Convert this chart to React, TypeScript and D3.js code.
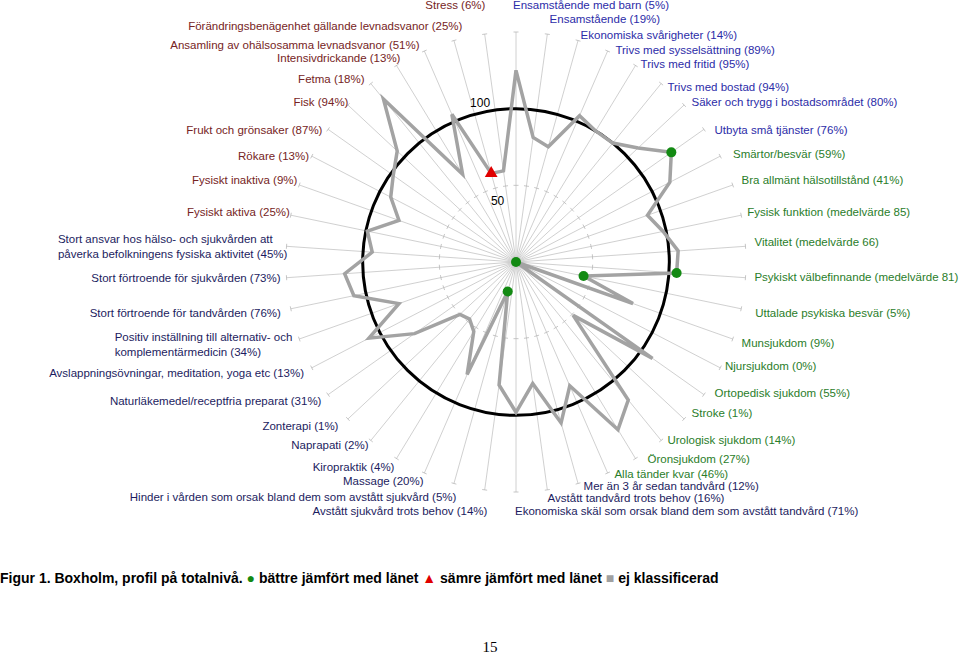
import React, { useRef, useEffect } from "react";
import * as d3 from "d3";

// categories clockwise from the top spoke
const categories = [
  "Ensamstående med barn (5%)",
  "Ensamstående (19%)",
  "Ekonomiska svårigheter (14%)",
  "Trivs med sysselsättning (89%)",
  "Trivs med fritid (95%)",
  "Trivs med bostad (94%)",
  "Säker och trygg i bostadsområdet (80%)",
  "Utbyta små tjänster (76%)",
  "Smärtor/besvär (59%)",
  "Bra allmänt hälsotillstånd (41%)",
  "Fysisk funktion (medelvärde 85)",
  "Vitalitet (medelvärde 66)",
  "Psykiskt välbefinnande (medelvärde 81)",
  "Uttalade psykiska besvär (5%)",
  "Munsjukdom (9%)",
  "Njursjukdom (0%)",
  "Ortopedisk sjukdom (55%)",
  "Stroke (1%)",
  "Urologisk sjukdom (14%)",
  "Öronsjukdom (27%)",
  "Alla tänder kvar (46%)",
  "Mer än 3 år sedan tandvård (12%)",
  "Avstått tandvård trots behov (16%)",
  "Ekonomiska skäl som orsak bland dem som avstått tandvård (71%)",
  "Avstått sjukvård trots behov (14%)",
  "Hinder i vården som orsak bland dem som avstått sjukvård (5%)",
  "Massage (20%)",
  "Kiropraktik (4%)",
  "Naprapati (2%)",
  "Zonterapi (1%)",
  "Naturläkemedel/receptfria preparat (31%)",
  "Avslappningsövningar, meditation, yoga etc (13%)",
  "Positiv inställning till alternativ- och\nkomplementärmedicin (34%)",
  "Stort förtroende för tandvården (76%)",
  "Stort förtroende för sjukvården (73%)",
  "Stort ansvar hos hälso- och sjukvården att\npåverka befolkningens fysiska aktivitet (45%)",
  "Fysiskt aktiva (25%)",
  "Fysiskt inaktiva (9%)",
  "Rökare (13%)",
  "Frukt och grönsaker (87%)",
  "Fisk (94%)",
  "Fetma (18%)",
  "Intensivdrickande  (13%)",
  "Ansamling av ohälsosamma levnadsvanor (51%)",
  "Förändringsbenägenhet gällande levnadsvanor (25%)",
  "Stress (6%)",
];

// index values (100 = county level)
const values = [
  125, 82, 78, 104, 100, 100, 109, 124, 113, 91,
  98, 106, 105, 45, 81, 0, 109, 51, 116, 128,
  88, 109, 80, 98, 81, 20, 80, 53, 48, 50,
  81, 108, 81, 108, 112, 94, 99, 81, 92, 98,
  106, 137, 67, 105, 60, 60,
];

// b = better than county, w = worse, "" = not classified
const status = [
  "", "", "", "", "", "", "", "b", "", "",
  "", "", "b", "b", "", "b", "", "", "", "",
  "", "", "", "", "", "b", "", "", "", "",
  "", "", "", "", "", "", "", "", "", "",
  "", "", "", "", "w", "",
];

// label colour group per category
const groups = [
  0, 0, 0, 0, 0, 0, 0, 0,
  1, 1, 1, 1, 1, 1, 1, 1, 1, 1, 1, 1, 1,
  2, 2, 2, 2, 2, 2, 2, 2, 2, 2, 2, 2, 2, 2, 2,
  3, 3, 3, 3, 3, 3, 3, 3, 3, 3,
];
const groupColors = ["#2c2ca8", "#2a7d2a", "#1c1c60", "#762424"];

// small label nudges from the spoke end
const labelNudge = [
  [-3, -25], [2, -13], [2, -4], [7, 1], [4, 0], [5, 5], [6, -2], [9, 2],
  [11, -1], [7, -4], [4, -3], [7, -4], [7, -1], [12, 4], [7, 3], [3, -3],
  [9, -3], [6, -7], [5, -2], [11, -1], [6, -1], [5, 1], [0, 6], [-1, 17],
  [3, 19], [3, 12], [0, 6], [-1, 7], [-1, 3], [-8, 6], [-5, 5], [-6, 4],
  [-5, 5], [-8, 4], [-4, 0], [3, 0], [1, -3], [0, -4], [-1, 1], [-4, 2],
  [2, -2], [-5, -3], [5, -6], [-4, -4], [9, -13], [1, -27],
];

const ringTicks = [50, 100, 150];
const ringLabels = [
  { v: 50, dx: -8, dy: 15 },
  { v: 100, dx: -15, dy: -7 },
];

const App = () => {
  const ref = useRef(null);

  useEffect(() => {
    const W = 960;
    const H = 656;
    const cx = 516;
    const cy = 262;
    const n = categories.length;
    const font = "'Liberation Sans', Arial, sans-serif";

    d3.select(ref.current).select("svg").remove();
    const svg = d3
      .select(ref.current)
      .append("svg")
      .attr("width", W)
      .attr("height", H)
      .style("display", "block");

    svg.append("rect").attr("width", W).attr("height", H).attr("fill", "#fff");

    const r = d3.scaleLinear().domain([0, 150]).range([0, 230]);
    const ang = d3.scaleLinear().domain([0, n]).range([0, 2 * Math.PI]);
    const pt = (i, v) => [
      cx + r(v) * Math.sin(ang(i)),
      cy - r(v) * Math.cos(ang(i)),
    ];

    // spokes
    const g = svg.append("g");
    categories.forEach((_, i) => {
      const [x2, y2] = pt(i, 150);
      g.append("line")
        .attr("x1", cx)
        .attr("y1", cy)
        .attr("x2", x2)
        .attr("y2", y2)
        .attr("stroke", "#c4c4c4")
        .attr("stroke-width", 0.8);
      ringTicks.forEach((t) => {
        const [tx, ty] = pt(i, t);
        const a = ang(i);
        const ox = 2.5 * Math.cos(a);
        const oy = 2.5 * Math.sin(a);
        g.append("line")
          .attr("x1", tx - ox)
          .attr("y1", ty - oy)
          .attr("x2", tx + ox)
          .attr("y2", ty + oy)
          .attr("stroke", "#b8b8b8")
          .attr("stroke-width", 0.8);
      });
    });

    // county level circle
    svg
      .append("circle")
      .attr("cx", cx)
      .attr("cy", cy)
      .attr("r", r(100))
      .attr("fill", "none")
      .attr("stroke", "#000")
      .attr("stroke-width", 3);

    ringLabels.forEach((d) => {
      const [x, y] = pt(n - 1, d.v);
      svg
        .append("text")
        .attr("x", x + d.dx)
        .attr("y", y + d.dy)
        .attr("text-anchor", "middle")
        .attr("dy", "0.35em")
        .attr("font-family", font)
        .attr("font-size", 12)
        .attr("fill", "#000")
        .text(String(d.v));
    });

    // profile line
    const line = d3
      .line()
      .x((d) => d[0])
      .y((d) => d[1])
      .curve(d3.curveLinearClosed);
    svg
      .append("path")
      .datum(values.map((v, i) => pt(i, v)))
      .attr("d", line)
      .attr("fill", "none")
      .attr("stroke", "#a3a3a3")
      .attr("stroke-width", 3.5)
      .attr("stroke-linejoin", "miter");

    // markers
    values.forEach((v, i) => {
      const [x, y] = pt(i, v);
      if (status[i] === "b") {
        svg.append("circle").attr("cx", x).attr("cy", y).attr("r", 5).attr("fill", "#138a13");
      } else if (status[i] === "w") {
        svg
          .append("path")
          .attr("d", d3.symbol(d3.symbolTriangle).size(70)())
          .attr("transform", `translate(${x},${y})`)
          .attr("fill", "#e00000");
      }
    });

    // category labels
    categories.forEach((c, i) => {
      const [ex, ey] = pt(i, 151.3);
      const right = i <= n / 2;
      const ax = ex + labelNudge[i][0];
      const ay = ey + labelNudge[i][1];
      const lines = c.split("\n");
      const lh = 15;
      const t = svg
        .append("text")
        .attr("font-family", font)
        .attr("font-size", 11.5)
        .attr("fill", groupColors[groups[i]])
        .attr("text-anchor", right || lines.length > 1 ? "start" : "end");
      lines.forEach((s, k) => {
        t.append("tspan")
          .attr("x", ax)
          .attr("y", ay - ((lines.length - 1) * lh) / 2 + k * lh)
          .attr("dy", "0.35em")
          .text(s);
      });
      if (!right && lines.length > 1) {
        const w = t.node().getBBox().width;
        t.selectAll("tspan").attr("x", ax - w);
      }
    });

    // caption
    const cap = svg
      .append("text")
      .attr("x", 0)
      .attr("y", 583)
      .attr("font-family", font)
      .attr("font-size", 14)
      .attr("font-weight", "bold")
      .attr("fill", "#000");
    cap.append("tspan").text("Figur 1. Boxholm, profil på totalnivå. ");
    cap.append("tspan").attr("fill", "#138a13").text("●");
    cap.append("tspan").text(" bättre jämfört med länet ");
    cap.append("tspan").attr("fill", "#e00000").text("▲");
    cap.append("tspan").text(" sämre jämfört med länet ");
    cap.append("tspan").attr("fill", "#a0a0a0").text("■");
    cap.append("tspan").text(" ej klassificerad");

    svg
      .append("text")
      .attr("x", 490)
      .attr("y", 652)
      .attr("text-anchor", "middle")
      .attr("font-family", "'Liberation Serif', 'Times New Roman', serif")
      .attr("font-size", 15)
      .attr("fill", "#000")
      .text("15");
  }, []);

  return (
    <div
      ref={ref}
      style={{ position: "absolute", left: 0, top: 0, width: 960, height: 656 }}
    />
  );
};

export default App;
